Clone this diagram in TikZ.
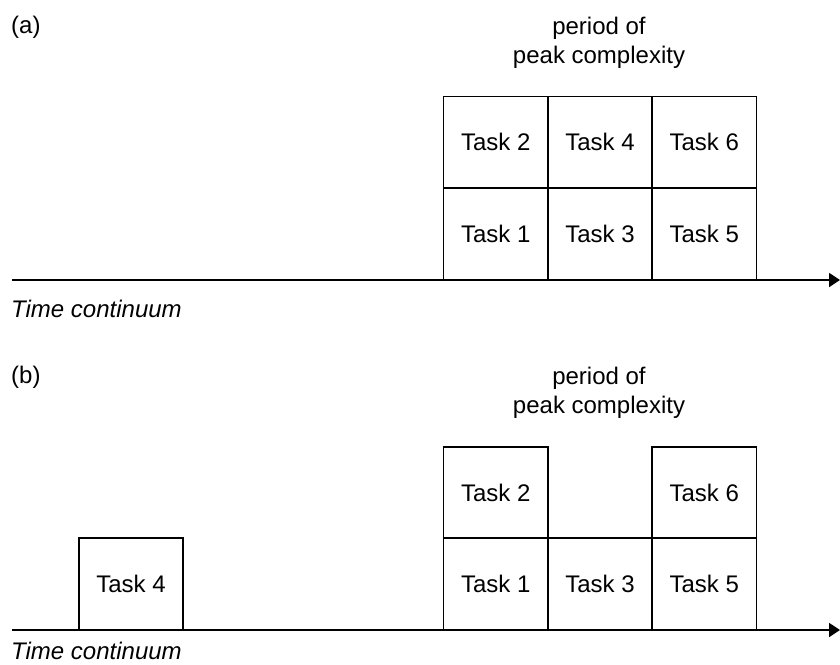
\documentclass[tikz,border=0pt]{standalone}
\usepackage{fontspec}
\setmainfont{Liberation Sans}
\usetikzlibrary{arrows.meta}
\begin{document}
\begin{tikzpicture}[x=1pt,y=-1pt,
  task/.style={draw, line width=1.6pt, minimum width=104.3pt, minimum height=91.5pt, inner sep=0pt, font=\fontsize{24}{29}\selectfont},
  lbl/.style={inner sep=0pt, font=\fontsize{24}{29}\selectfont},
  axis/.style={line width=1.8pt, -{Triangle[length=11pt,width=14pt]}}]
\useasboundingbox (0,0) rectangle (840,664);
% ---- panel (a)
\node[lbl, anchor=base west] (la) at (11,33) {(a)};
\node[lbl, anchor=base, align=center] (pa) at (599,63) {period of\\peak complexity};
\node[task] (a2) at (495.75,142.25) {Task 2};
\node[task] (a4) at (600,142.25) {Task 4};
\node[task] (a6) at (704.25,142.25) {Task 6};
\node[task] (a1) at (495.75,233.75) {Task 1};
\node[task] (a3) at (600,233.75) {Task 3};
\node[task] (a5) at (704.25,233.75) {Task 5};
\coordinate (as) at (12,280);
\coordinate (ae) at (840,280);
\draw[axis] (as) -- (ae);
\node[lbl, anchor=base west, font=\fontsize{24}{29}\selectfont\itshape] (ta) at (11,317) {Time continuum};
% ---- panel (b)
\node[lbl, anchor=base west] (lb) at (11,383) {(b)};
\node[lbl, anchor=base, align=center] (pb) at (599,413) {period of\\peak complexity};
\node[task, minimum width=104pt] (b4) at (131,584) {Task 4};
\node[task] (b2) at (495.75,492.75) {Task 2};
\node[task] (b6) at (704.25,492.75) {Task 6};
\node[task] (b1) at (495.75,584) {Task 1};
\node[task] (b3) at (600,584) {Task 3};
\node[task] (b5) at (704.25,584) {Task 5};
\coordinate (bs) at (12,630);
\coordinate (be) at (840,630);
\draw[axis] (bs) -- (be);
\node[lbl, anchor=base west, font=\fontsize{24}{29}\selectfont\itshape] (tb) at (11,659) {Time continuum};
\end{tikzpicture}
\end{document}
